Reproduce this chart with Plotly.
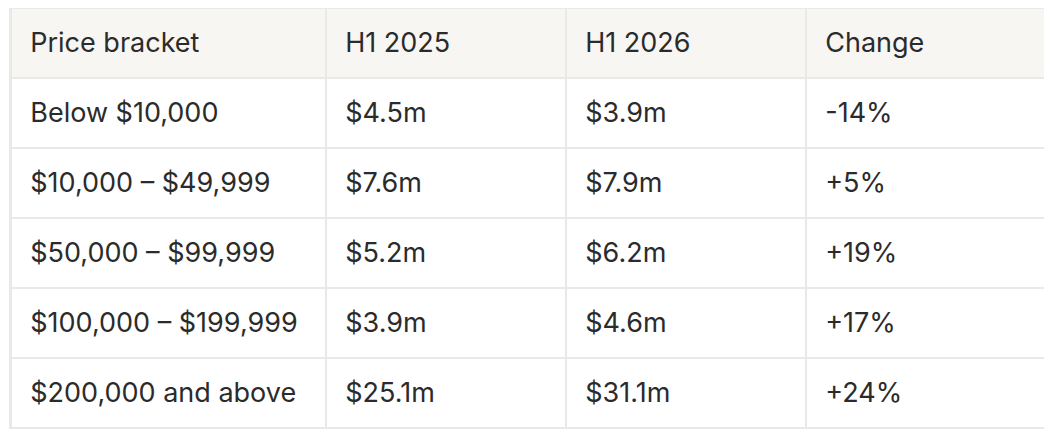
import plotly.graph_objects as go

headers = ["Price bracket", "H1 2025", "H1 2026", "Change"]
brackets = ["Below $10,000", "$10,000 – $49,999", "$50,000 – $99,999",
            "$100,000 – $199,999", "$200,000 and above"]
h1_2025 = ["$4.5m", "$7.6m", "$5.2m", "$3.9m", "$25.1m"]
h1_2026 = ["$3.9m", "$7.9m", "$6.2m", "$4.6m", "$31.1m"]
change = ["-14%", "+5%", "+19%", "+17%", "+24%"]

PAD = "\u2005\u2006"


def padded(lst):
    return [PAD + s for s in lst]


W, H = 1044, 440          # page body has an 8px margin
X0, X1 = 3, 1037          # inner table edges in figure px
EDGE_L, EDGE_R = 1, 2     # thin outer columns that draw the outer border
TEXT_SHIFT = 16           # vertical offset to centre text in 70px rows
ROW_H = 70
COL_W = [315, 240, 240, 239]
BORDER = "#e9e9e7"
HEAD_BG = "#f7f6f3"
TXT = "#2b2b2b"
FONT = dict(family="Inter", size=27, color=TXT)

columns = [brackets, h1_2025, h1_2026, change]
n_rows = len(brackets)
empty = [[""] * n_rows for _ in range(len(columns) + 2)]

fig = go.Figure()
# grid / fills
fig.add_trace(go.Table(
    columnwidth=[EDGE_L] + COL_W + [EDGE_R],
    header=dict(values=[""] * 6, height=ROW_H,
                fill_color=[BORDER] + [HEAD_BG] * 4 + [BORDER],
                line=dict(color=BORDER, width=2), font=FONT),
    cells=dict(values=empty, height=ROW_H,
               fill_color=[BORDER] + ["#ffffff"] * 4 + [BORDER],
               line=dict(color=BORDER, width=2), font=FONT),
    domain=dict(x=[(X0 - EDGE_L) / W, (X1 + EDGE_R) / W], y=[0, 1]),
))
# text layer
fig.add_trace(go.Table(
    columnwidth=COL_W,
    header=dict(values=padded(headers), height=ROW_H, align="left",
                fill_color="rgba(0,0,0,0)",
                line=dict(color="rgba(0,0,0,0)", width=0), font=FONT),
    cells=dict(values=[padded(c) for c in columns], height=ROW_H, align="left",
               fill_color="rgba(0,0,0,0)",
               line=dict(color="rgba(0,0,0,0)", width=0), font=FONT),
    domain=dict(x=[X0 / W, X1 / W], y=[0, 1 - TEXT_SHIFT / H]),
))
fig.update_layout(width=W, height=H, margin=dict(l=0, r=0, t=0, b=0),
                  paper_bgcolor="#ffffff")
fig.write_html("out.html")
